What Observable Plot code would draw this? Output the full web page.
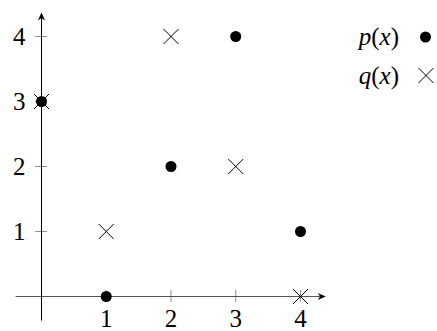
<!DOCTYPE html>
<html>
<head>
<meta charset="utf-8">
<script src="https://cdn.jsdelivr.net/npm/d3@7"></script>
<script src="https://cdn.jsdelivr.net/npm/@observablehq/plot@0.6"></script>
<style>
  body { margin: 0; background: #fff; }
  #chart { position: relative; width: 437px; height: 331px; }
</style>
</head>
<body>
<div id="chart"></div>
<script>
const FONT = "'Liberation Serif', 'Times New Roman', serif";
const xs = [0, 1, 2, 3, 4];
const pValues = [3, 0, 2, 4, 1];
const qValues = [3, 1, 4, 2, 0];
const xTicks = [1, 2, 3, 4];
const yTicks = [1, 2, 3, 4];
const legendLabels = ["p", "q"];

const pData = xs.map((x, i) => ({x, y: pValues[i]}));
const qData = xs.map((x, i) => ({x, y: qValues[i]}));

const arrowRight = {draw(ctx) { ctx.moveTo(0, 0); ctx.lineTo(-8, -3.6); ctx.lineTo(-5.6, 0); ctx.lineTo(-8, 3.6); ctx.closePath(); }};
const arrowUp = {draw(ctx) { ctx.moveTo(0, 0); ctx.lineTo(-3.6, 8); ctx.lineTo(0, 5.6); ctx.lineTo(3.6, 8); ctx.closePath(); }};
const cross = {draw(ctx) { const r = 7.5; ctx.moveTo(-r, -r); ctx.lineTo(r, r); ctx.moveTo(-r, r); ctx.lineTo(r, -r); }};

const xMin = -0.4, xMax = 4.39, yMin = -0.37, yMax = 4.37;

const plot = Plot.plot({
  width: 437,
  height: 331,
  marginLeft: 41,
  marginRight: 137,
  marginTop: 36,
  marginBottom: 35,
  x: {domain: [0, 4], axis: null},
  y: {domain: [0, 4], axis: null},
  style: {background: "#fff", fontFamily: FONT},
  marks: [
    Plot.ruleY(yTicks, {x1: -0.09, x2: 0.09, stroke: "#8c8c8c", strokeWidth: 1}),
    Plot.ruleX(xTicks, {y1: -0.09, y2: 0.09, stroke: "#8c8c8c", strokeWidth: 1}),
    Plot.link([{x1: xMin, y1: 0, x2: xMax - 0.08, y2: 0}], {x1: "x1", y1: "y1", x2: "x2", y2: "y2", stroke: "#555", strokeWidth: 1}),
    Plot.link([{x1: 0, y1: yMin, x2: 0, y2: yMax - 0.08}], {x1: "x1", y1: "y1", x2: "x2", y2: "y2", stroke: "#000", strokeWidth: 1}),
    Plot.dot([{x: xMax, y: 0}], {x: "x", y: "y", symbol: arrowRight, fill: "#000", stroke: "none", r: 4}),
    Plot.dot([{x: 0, y: yMax}], {x: "x", y: "y", symbol: arrowUp, fill: "#000", stroke: "none", r: 4}),
    Plot.text(xTicks, {x: d => d, y: 0, dy: 22, text: d => String(d), fontSize: 25, fontFamily: FONT, fill: "#000"}),
    Plot.text(yTicks, {x: 0, y: d => d, dx: -16, textAnchor: "end", text: d => String(d), fontSize: 25, fontFamily: FONT, fill: "#000"}),
    Plot.dot(qData, {x: "x", y: "y", symbol: cross, stroke: "#000", strokeWidth: 1, r: 4}),
    Plot.dot(pData, {x: "x", y: "y", fill: "#000", stroke: "none", r: 5.5}),
  ]
});
const root = document.getElementById("chart");
root.appendChild(plot);

const svg = d3.select(plot);
const lg = svg.append("g").attr("font-size", 25).attr("font-family", FONT).style("font-family", FONT);
legendLabels.forEach((lab, i) => {
  const cy = 37 + i * 38.5;
  const t = lg.append("text").attr("x", 399).attr("y", cy).attr("dy", "0.32em").attr("text-anchor", "end").attr("fill", "#000");
  t.append("tspan").attr("font-style", "italic").text(lab);
  t.append("tspan").text("(");
  t.append("tspan").attr("font-style", "italic").text("x");
  t.append("tspan").text(")");
  if (i === 0) {
    lg.append("circle").attr("cx", 425.5).attr("cy", cy).attr("r", 5.5).attr("fill", "#000");
  } else {
    lg.append("path").attr("d", d3.symbol(cross)()).attr("transform", `translate(426,${cy})`).attr("stroke", "#000").attr("fill", "none");
  }
});
</script>
</body>
</html>
